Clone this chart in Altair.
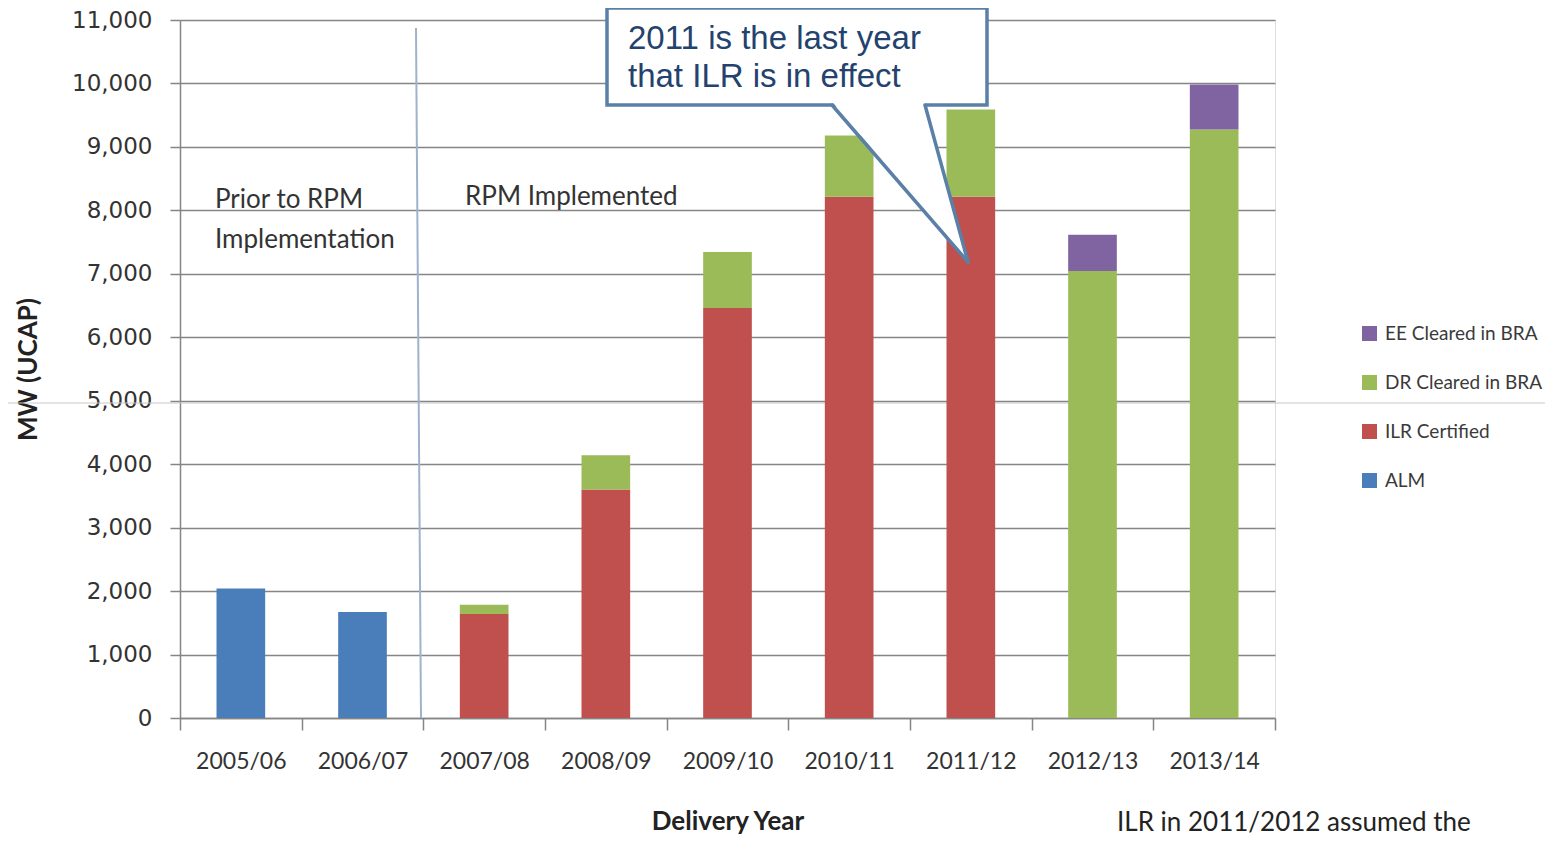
import altair as alt
import pandas as pd

years = ["2005/06", "2006/07", "2007/08", "2008/09", "2009/10",
         "2010/11", "2011/12", "2012/13", "2013/14"]
alm = [2040, 1670, 0, 0, 0, 0, 0, 0, 0]
ilr = [0, 0, 1640, 3600, 6460, 8215, 8215, 0, 0]
dr = [0, 0, 145, 540, 885, 965, 1375, 7045, 9275]
ee = [0, 0, 0, 0, 0, 0, 0, 570, 710]

series_names = ["ALM", "ILR Certified", "DR Cleared  in BRA", "EE Cleared in BRA"]
series_colors = ["#4a7ebb", "#c0504d", "#9bbb59", "#8064a2"]
legend_order = ["EE Cleared in BRA", "DR Cleared  in BRA", "ILR Certified", "ALM"]
y_ticks = list(range(0, 11001, 1000))

rows = []
for i, yr in enumerate(years):
    for k, (name, vals) in enumerate(zip(series_names, [alm, ilr, dr, ee])):
        rows.append({"year": yr, "series": name, "value": vals[i], "ord": k})
df = pd.DataFrame(rows)
one = pd.DataFrame({"a": [0]})

W, H = 1095, 698
GRID = "#858585"

bars = alt.Chart(df).mark_bar(width=alt.RelativeBandSize(0.4)).encode(
    x=alt.X("year:N", sort=years, scale=alt.Scale(paddingInner=0, paddingOuter=0),
            axis=alt.Axis(title="Delivery Year", labelAngle=0, tickBand="extent",
                          tickSize=12, tickColor=GRID, tickWidth=1.5,
                          domainColor=GRID, domainWidth=1.5,
                          labelFont="Lato", labelFontSize=23, labelColor="#333333",
                          labelPadding=20, titleFont="Lato", titleFontSize=26,
                          titleFontWeight="bold", titleColor="#222222", titlePadding=35)),
    y=alt.Y("value:Q", stack="zero",
            scale=alt.Scale(domain=[0, 11000], nice=False),
            axis=alt.Axis(title="MW (UCAP)", values=y_ticks, format=",d",
                          grid=True, gridColor=GRID, gridWidth=1.5,
                          tickSize=10, tickColor=GRID, tickWidth=1.5,
                          domainColor=GRID, domainWidth=1.5,
                          labelFont="DejaVu Sans", labelFontSize=23, labelColor="#333333",
                          labelPadding=18, titleFont="Lato", titleFontSize=26,
                          titleFontWeight="bold", titleColor="#222222",
                          titleX=-152, titleY=H / 2, titleAngle=-90,
                          titleAlign="center", titleBaseline="middle")),
    color=alt.Color("series:N",
                    scale=alt.Scale(domain=series_names, range=series_colors),
                    sort=legend_order,
                    legend=alt.Legend(title=None, orient="none", legendX=1180, legendY=304,
                                      symbolType="square", symbolSize=225,
                                      symbolStrokeWidth=0, labelFont="Lato",
                                      labelFontSize=19, labelColor="#3a3a3a",
                                      labelLimit=0, labelOffset=6, rowPadding=29,
                                      values=legend_order)),
    order=alt.Order("ord:Q", sort="ascending"),
)

stray = alt.Chart(one).mark_rule(color="#c8c8c8", strokeWidth=1).encode(
    x=alt.value(-180), x2=alt.value(1400), y=alt.value(383))

divider = alt.Chart(one).mark_rule(color="#9fb2cc", strokeWidth=2).encode(
    x=alt.value(236), x2=alt.value(241), y=alt.value(8), y2=alt.value(698))

def label(txt, x, y, size=26, font="Lato", color="#333333", baseline="middle"):
    return alt.Chart(one).mark_text(align="left", baseline=baseline, font=font,
                                    fontSize=size, color=color).encode(
        x=alt.value(x), y=alt.value(y), text=alt.value(txt))

t1 = label("Prior to RPM", 35, 180)
t2 = label("Implementation", 35, 220)
t3 = label("RPM Implemented", 285, 177)
t4 = label("ILR in 2011/2012 assumed the", 937, 811, size=26, color="#222222",
           baseline="alphabetic")

CALL = "#5b80a8"
box = alt.Chart(one).mark_rect(fill="white", stroke=CALL, strokeWidth=3.5).encode(
    x=alt.value(427), x2=alt.value(807), y=alt.value(-12), y2=alt.value(85))

tri = alt.Chart(one).mark_point(
    shape="M -0.48 -0.815 L 0.45 -0.815 L 0.88 0.79 Z", size=40000,
    filled=True, fill="white", opacity=1).encode(
    x=alt.value(700), y=alt.value(163))

p1 = alt.Chart(one).mark_rule(color=CALL, strokeWidth=3.5, strokeCap="round").encode(
    x=alt.value(652), y=alt.value(85), x2=alt.value(788), y2=alt.value(242))
p2 = alt.Chart(one).mark_rule(color=CALL, strokeWidth=3.5, strokeCap="round").encode(
    x=alt.value(745), y=alt.value(85), x2=alt.value(788), y2=alt.value(242))

c1 = label("2011 is the last year", 448, 19, size=33, font="Liberation Sans", color="#24426e")
c2 = label("that ILR is in effect", 448, 57, size=33, font="Liberation Sans", color="#24426e")

chart = alt.layer(stray, bars, divider, t1, t2, t3, t4, box, tri, p1, p2, c1, c2).properties(
    width=W, height=H,
    autosize=alt.AutoSizeParams(type="none"),
    padding={"left": 172, "top": 12, "right": 270, "bottom": 120},
).configure_view(stroke=None).configure(background="white")

chart.save("out.html", embed_options={"renderer": "svg", "actions": False})
